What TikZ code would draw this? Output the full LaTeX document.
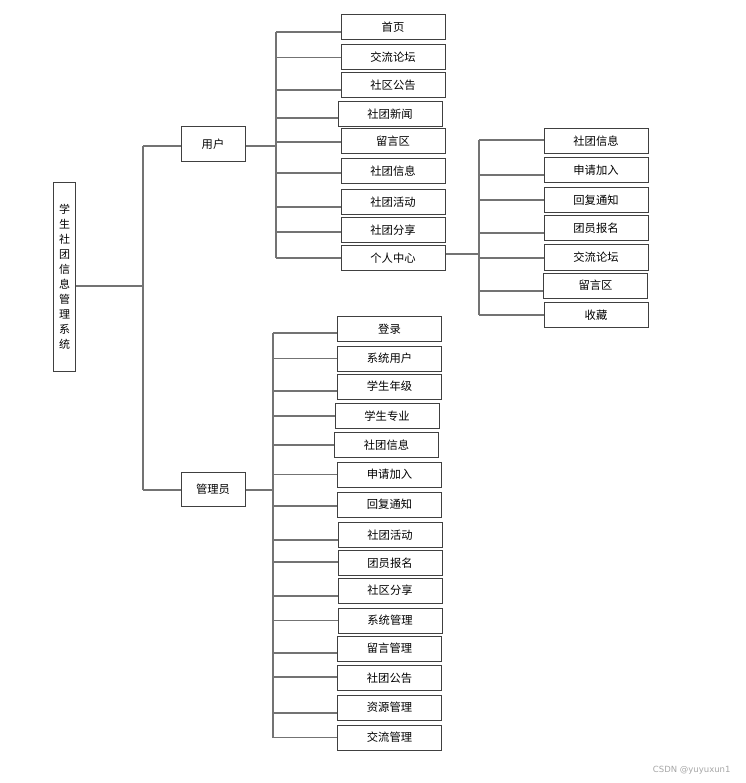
\documentclass[tikz,border=0pt]{standalone}
\usepackage{fontspec}
\setmainfont{Noto Sans CJK SC}
\newfontfamily\wmfont{DejaVu Sans}
\begin{document}
\begin{tikzpicture}[x=1pt,y=-1pt,
  box/.style={draw=black!75,line width=1pt,fill=white,inner sep=0pt,minimum width=104pt,minimum height=25pt,font=\fontsize{11.3}{12}\selectfont},
  mid/.style={box,minimum width=64pt,minimum height=35pt},
  link/.style={draw=black!55,line width=1.2pt}]
\useasboundingbox (0,0) rectangle (745,783);
% root
\node[box,minimum width=22pt,minimum height=188pt,align=center,font=\fontsize{11}{15}\selectfont] (root) at (64.5,277) {学\\生\\社\\团\\信\\息\\管\\理\\系\\统};
\node[mid] (user) at (213,144.5) {用户};
\node[mid,minimum height=34pt] (admin) at (213,489) {管理员};
% user children
\node[box] (u1) at (393,27.5) {首页};
\node[box] (u2) at (393,57.5) {交流论坛};
\node[box] (u3) at (393,85.5) {社区公告};
\node[box] (u4) at (390,114.5) {社团新闻};
\node[box] (u5) at (393,141.5) {留言区};
\node[box] (u6) at (393,171.5) {社团信息};
\node[box] (u7) at (393,202) {社团活动};
\node[box] (u8) at (393,230) {社团分享};
\node[box] (u9) at (393,258) {个人中心};
% personal center children
\node[box] (p1) at (596,141) {社团信息};
\node[box] (p2) at (596,170.5) {申请加入};
\node[box] (p3) at (596,200) {回复通知};
\node[box] (p4) at (596,228) {团员报名};
\node[box] (p5) at (596,257.5) {交流论坛};
\node[box] (p6) at (595.5,285.5) {留言区};
\node[box] (p7) at (596,315) {收藏};
% admin children
\node[box] (a1) at (389.5,329) {登录};
\node[box] (a2) at (389.5,358.5) {系统用户};
\node[box] (a3) at (389.5,386.5) {学生年级};
\node[box] (a4) at (387,416) {学生专业};
\node[box] (a5) at (386.5,445) {社团信息};
\node[box] (a6) at (389.5,474.5) {申请加入};
\node[box] (a7) at (389.5,504.5) {回复通知};
\node[box] (a8) at (390,535) {社团活动};
\node[box] (a9) at (390,563) {团员报名};
\node[box] (a10) at (390,590.5) {社区分享};
\node[box] (a11) at (390,620.5) {系统管理};
\node[box] (a12) at (389.5,648.5) {留言管理};
\node[box] (a13) at (389.5,678) {社团公告};
\node[box] (a14) at (389.5,707.5) {资源管理};
\node[box] (a15) at (389.5,737.5) {交流管理};
% trunks
\coordinate (tr) at (143,0);
\coordinate (tu) at (276,0);
\coordinate (tp) at (479,0);
\coordinate (ta) at (273,0);
% root connectors
\draw[link] ([yshift=-9pt]root.east) -- ([yshift=-9pt]root.east -| tr);
\draw[link] ([yshift=-1.5pt]user.west -| tr) -- ([yshift=-1pt]admin.west -| tr);
\draw[link] ([yshift=-1.5pt]user.west -| tr) -- ([yshift=-1.5pt]user.west);
\draw[link] ([yshift=-1pt]admin.west -| tr) -- ([yshift=-1pt]admin.west);
% user connectors
\draw[link] ([yshift=-1.5pt]user.east) -- ([yshift=-1.5pt]user.east -| tu);
\draw[link] ([yshift=-4.5pt]u1.west -| tu) -- (u9.west -| tu);
\foreach \n/\s in {u1/4.5,u2/0,u3/4.5,u4/3.5,u5/0.5,u6/1.5,u7/5,u8/2,u9/0}
  \draw[link] ([yshift=-\s pt]\n.west -| tu) -- ([yshift=-\s pt]\n.west);
% personal connectors
\draw[link] ([yshift=4pt]u9.east) -- ([yshift=4pt]u9.east -| tp);
\draw[link] ([yshift=1pt]p1.west -| tp) -- (p7.west -| tp);
\foreach \n/\s in {p1/-1,p2/4.5,p3/0,p4/5,p5/0.5,p6/5.5,p7/0}
  \draw[link] ([yshift=-\s pt]\n.west -| tp) -- ([yshift=-\s pt]\n.west);
% admin connectors
\draw[link] ([yshift=-1pt]admin.east) -- ([yshift=-1pt]admin.east -| ta);
\draw[link] ([yshift=-4pt]a1.west -| ta) -- (a15.west -| ta);
\foreach \n/\s in {a1/4,a2/0,a3/4.5,a4/0,a5/0,a6/0,a7/1.5,a8/5,a9/-1,a10/5.5,a11/0,a12/4.5,a13/-1,a14/5.5,a15/0}
  \draw[link] ([yshift=-\s pt]\n.west -| ta) -- ([yshift=-\s pt]\n.west);
% watermark
\node[text=black!35,font=\wmfont\fontsize{8.5}{10}\selectfont,anchor=east] (wm) at (734,770) {CSDN @yuyuxun1};
\end{tikzpicture}
\end{document}
